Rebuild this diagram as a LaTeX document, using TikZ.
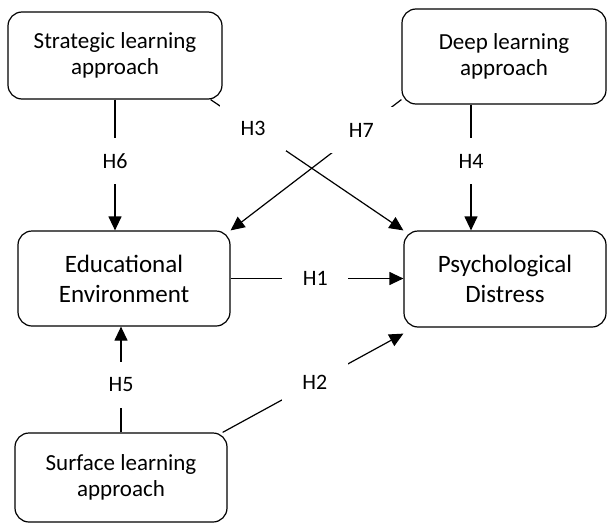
\documentclass[tikz,border=0pt]{standalone}
\usepackage{fontspec}
\setmainfont{Carlito}
\usetikzlibrary{arrows.meta}

\begin{document}
\begin{tikzpicture}[x=1pt,y=-1pt,
    box/.style={draw, line width=1.2pt, rounded corners=14pt, align=center, inner sep=0pt},
    smallbox/.style={box, font=\fontsize{23}{26}\selectfont},
    bigbox/.style={box, font=\fontsize{25}{30}\selectfont},
    arr/.style={line width=1.2pt, -{Triangle[length=14pt,width=13pt]}},
    lab/.style={fill=white, minimum width=66pt, minimum height=46pt, inner sep=0pt, font=\fontsize{22}{26}\selectfont}]
        \useasboundingbox (0,0) rectangle (608,525);

        % Draw the boxes
        \node[smallbox, minimum width=214pt, minimum height=87pt] (strat) at (115,55.5) {Strategic learning\\approach};
        \node[smallbox, minimum width=204pt, minimum height=95pt] (deep) at (504,56.5) {Deep learning\\approach};
        \node[bigbox, minimum width=212pt, minimum height=95pt] (edu) at (124,278.5) {Educational\\Environment};
        \node[bigbox, minimum width=202pt, minimum height=96pt] (psych) at (505,279) {Psychological\\Distress};
        \node[smallbox, minimum width=212pt, minimum height=89pt] (surf) at (121,477.5) {Surface learning\\approach};

        % Draw the hypotheses
        \draw[arr] (strat.south) -- node[lab, pos=0.47] {H6} (strat.south |- edu.north);
        \draw[arr] ([xshift=-33pt]deep.south) -- node[lab, pos=0.45] {H4} ([xshift=-33pt]deep.south |- psych.north);
        \draw[arr] (surf.north) -- node[lab, pos=0.45] {H5} (surf.north |- edu.south);
        \draw[arr] (edu.east) -- node[lab, pos=0.49] {H1} (edu.east -| psych.west);
        \draw[arr] ([xshift=-5pt]surf.north east) -- node[lab, pos=0.51] {H2} ([yshift=-6pt]psych.south west);
        \draw[arr] ([xshift=-12pt]strat.south east) -- node[lab, pos=0.22] {H3} (psych.north west);
        \draw[arr] ([yshift=5pt]deep.south west) -- node[lab, pos=0.235] {H7} (edu.north east);
    \end{tikzpicture}
\end{document}
